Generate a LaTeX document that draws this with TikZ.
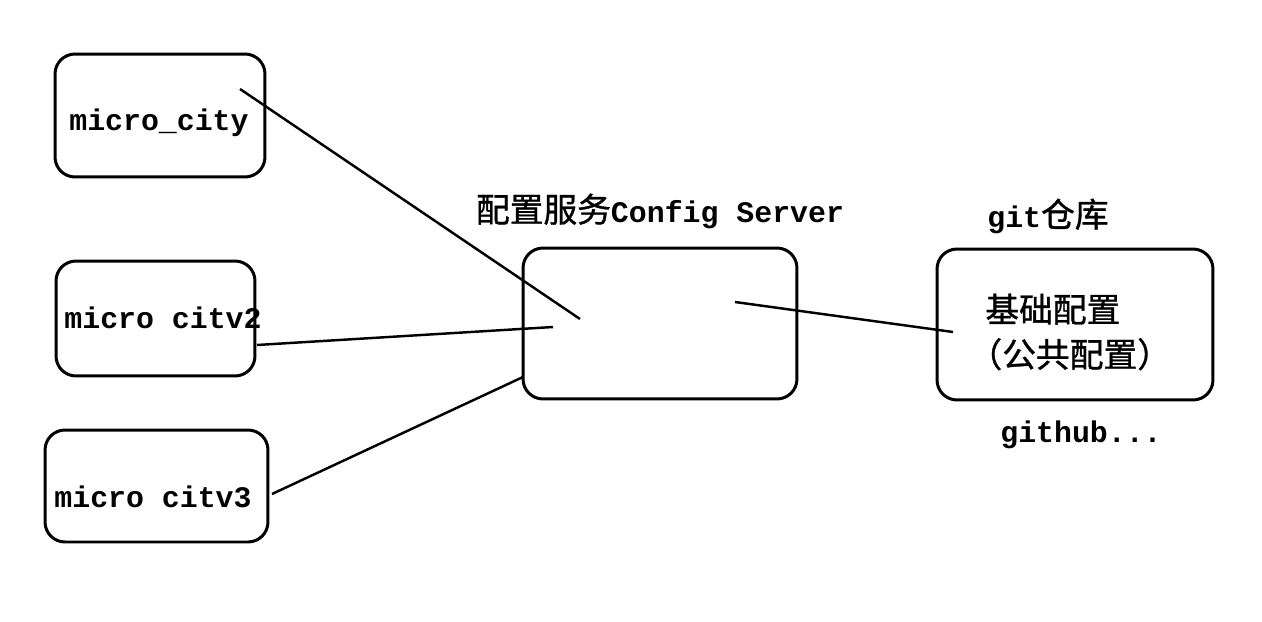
\documentclass[tikz,border=0pt]{standalone}
\usepackage{fontspec}
\setmainfont{Liberation Mono}
\newfontfamily\cjk[Scale=1.13, FakeBold=1]{Noto Sans CJK SC}
\begin{document}
\begin{tikzpicture}[x=0.02cm, y=-0.02cm,
    box/.style={draw, line width=1.7pt, rounded corners=0.4cm, inner sep=0pt},
    lbl/.style={font=\fontsize{17}{25.6}\selectfont\bfseries, inner sep=0pt},
    wire/.style={line width=1.4pt}]
        \useasboundingbox (0,0) rectangle (1262,622);
        % clients
        \node[box, minimum width=4.2cm, minimum height=2.46cm] (city1) at (160,115.5) {};
        \node[box, minimum width=3.98cm, minimum height=2.3cm] (city2) at (155.5,318.5) {};
        \node[box, minimum width=4.46cm, minimum height=2.24cm] (city3) at (156.5,486) {};
        \node[lbl] (name1) at (159,123) {micro\_city};
        \node[lbl] (name2) at (163,318) {micro citv2};
        \node[lbl] (name3) at (153,497) {micro citv3};
        % config server
        \node[box, minimum width=5.48cm, minimum height=3.02cm] (server) at (660,323.5) {};
        \node[lbl] (title) at (660,211) {{\cjk\mdseries 配置服务}Config Server};
        % git repo
        \node[box, minimum width=5.52cm, minimum height=3.02cm] (repo) at (1075,324.5) {};
        \node[lbl] (repotitle) at (1048,216) {git{\cjk\mdseries 仓库}};
        \node[lbl, anchor=west, align=left] (common) at (985,332) {{\cjk\mdseries 基础配置}\\{\cjk\mdseries\hspace*{-0.5em}（公共配置）}};
        \node[lbl] (host) at (1081,435) {github...};
        % wires
        \coordinate (a1) at (240,89);
        \coordinate (a2) at (580,319);
        \coordinate (b1) at (257,345);
        \coordinate (b2) at (553,327);
        \coordinate (c1) at (272,494);
        \coordinate (c2) at (523,377);
        \coordinate (d1) at (735,302);
        \coordinate (d2) at (953,332);
        \draw[wire] (a1) -- (a2);
        \draw[wire] (b1) -- (b2);
        \draw[wire] (c1) -- (c2);
        \draw[wire] (d1) -- (d2);
\end{tikzpicture}
\end{document}
